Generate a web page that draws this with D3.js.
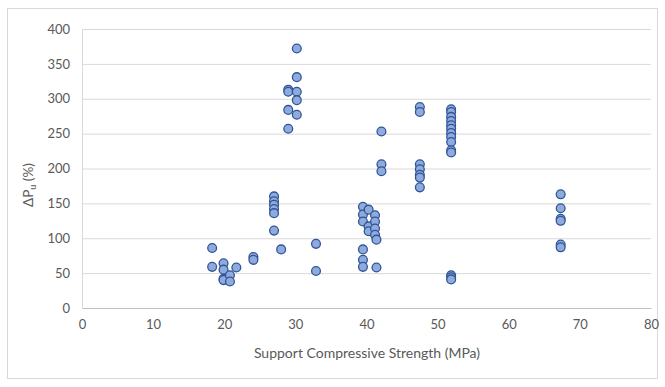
<!DOCTYPE html>
<html>
<head>
<meta charset="utf-8">
<script src="https://cdn.jsdelivr.net/npm/d3@7"></script>
<style>
  html, body { margin: 0; padding: 0; background: #fff; }
  svg { display: block; font-family: Lato, "Open Sans", sans-serif; }
</style>
</head>
<body>
<svg id="chart" width="665" height="387"></svg>
<script>
// Support compressive strength (MPa)
const strengthMPa = [
  18.3, 18.3,
  19.9, 19.9, 19.9, 19.9,
  20.8, 20.8,
  21.7,
  24.1, 24.1,
  27.0, 27.0, 27.0, 27.0, 27.0, 27.0,
  28.0,
  29.0, 29.0, 29.0, 29.0,
  30.2, 30.2, 30.2, 30.2, 30.2,
  32.9, 32.9,
  39.5, 39.5, 39.5, 39.5, 39.5, 39.5,
  40.3, 40.3, 40.3,
  41.2, 41.2, 41.2, 41.2,
  41.4, 41.4,
  42.1, 42.1, 42.1,
  47.5, 47.5, 47.5, 47.5, 47.5, 47.5, 47.5,
  51.9, 51.9, 51.9, 51.9, 51.9, 51.9, 51.9, 51.9, 51.9, 51.9, 51.9, 51.9, 51.9, 51.9,
  67.3, 67.3, 67.3, 67.3, 67.3, 67.3
];
// ΔPu (%)
const deltaPu = [
  86, 59,
  64, 55, 42, 40,
  47, 38,
  58,
  73, 69,
  160, 153, 148, 142, 136, 111,
  84,
  313, 310, 284, 257,
  372, 331, 310, 298, 277,
  92, 53,
  145, 134, 124, 84, 69, 59,
  141, 117, 110,
  133, 124, 114, 105,
  98, 58,
  253, 206, 196,
  288, 281, 206, 199, 191, 187, 173,
  285, 281, 274, 268, 262, 257, 251, 245, 238, 226, 223, 47, 44, 41,
  163, 143, 128, 125, 91, 87
];
const xTicks = [0, 10, 20, 30, 40, 50, 60, 70, 80];
const yTicks = [0, 50, 100, 150, 200, 250, 300, 350, 400];
const xTitle = "Support Compressive Strength (MPa)";

const svg = d3.select("#chart");
const L = 82, R = 651, T = 29, B = 308;

// outer frame
svg.append("rect").attr("x", 7.5).attr("y", 8.5).attr("width", 650).attr("height", 370)
  .attr("fill", "#fff").attr("stroke", "#d9d9d9").attr("stroke-width", 1);

const x = d3.scaleLinear().domain([0, 80]).range([L, R]);
const y = d3.scaleLinear().domain([0, 400]).range([B, T]);

// gridlines
svg.append("g")
  .attr("transform", `translate(${L},0)`)
  .call(d3.axisLeft(y).tickValues(yTicks.filter(v => v > 0)).tickSize(-(R - L)).tickFormat(""))
  .call(g => g.select(".domain").remove())
  .call(g => g.selectAll("line").attr("stroke", "#d9d9d9").attr("stroke-width", 1));

// y axis labels
const yAxis = svg.append("g")
  .attr("transform", `translate(${L},0)`)
  .call(d3.axisLeft(y).tickValues(yTicks).tickSize(0).tickPadding(12))
  .call(g => g.select(".domain").attr("stroke", "#d9d9d9"));
yAxis.selectAll("text").attr("fill", "#595959").attr("font-size", 13)
  .attr("font-family", "Lato, 'Open Sans', sans-serif");

// x axis
const xAxis = svg.append("g")
  .attr("transform", `translate(0,${B})`)
  .call(d3.axisBottom(x).tickValues(xTicks).tickSize(0).tickPadding(12))
  .call(g => g.select(".domain").attr("stroke", "#bfbfbf").attr("stroke-width", 1.2));
xAxis.selectAll("text").attr("fill", "#595959").attr("font-size", 13)
  .attr("font-family", "Lato, 'Open Sans', sans-serif");

// axis titles
svg.append("text")
  .attr("x", 367).attr("y", 358)
  .attr("text-anchor", "middle").attr("fill", "#595959").attr("font-size", 14)
  .text(xTitle);

const yt = svg.append("text")
  .attr("transform", "translate(33,185) rotate(-90)")
  .attr("text-anchor", "middle").attr("fill", "#595959").attr("font-size", 13.5);
yt.append("tspan").text("ΔP");
yt.append("tspan").attr("font-size", 9).attr("dy", 3).text("u");
yt.append("tspan").attr("dy", -3).text(" (%)");

// points
const pts = strengthMPa.map((s, i) => ({ s, p: deltaPu[i] }));
svg.append("g").selectAll("circle").data(pts).join("circle")
  .attr("cx", d => x(d.s)).attr("cy", d => y(d.p)).attr("r", 4.4)
  .attr("fill", "#8faadc").attr("stroke", "#2f5597").attr("stroke-width", 1.3);
</script>
</body>
</html>
